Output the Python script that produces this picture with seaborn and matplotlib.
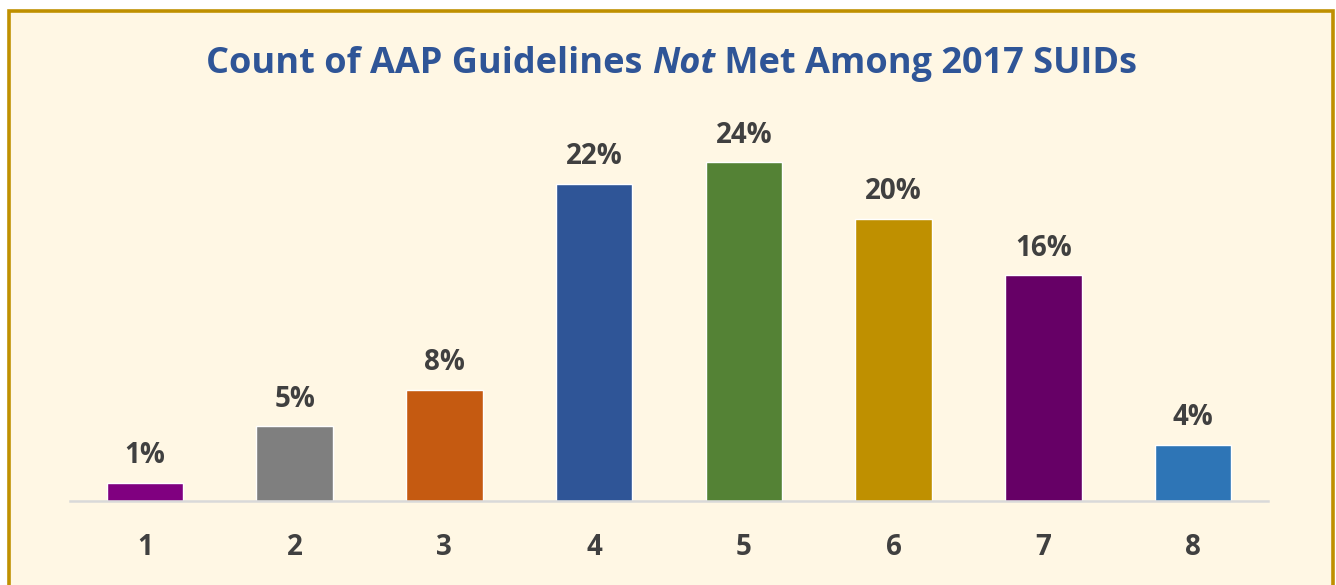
import numpy as np
import pandas as pd
import matplotlib
matplotlib.use("Agg")
import matplotlib.pyplot as plt
import seaborn as sns
from matplotlib.patches import Rectangle

# データ
guidelines = ["1", "2", "3", "4", "5", "6", "7", "8"]
pct_not_met = [1.3, 5.3, 7.9, 22.49, 24.0, 20.0, 16.0, 4.0]
bar_colors = ["#800080", "#7F7F7F", "#C55A11", "#2F5597",
              "#548235", "#BF9000", "#660066", "#2E75B6"]

df = pd.DataFrame({"count": guidelines, "pct": pct_not_met})

sns.set_theme(style="white")
plt.rcParams["font.family"] = ["Open Sans", "DejaVu Sans"]

W, H = 1336, 585
fig = plt.figure(figsize=(W / 100, H / 100), dpi=100)
fig.patch.set_facecolor("white")

# 背景と枠
bg = Rectangle((8.5 / W, -0.1), (1333 - 8.5) / W, 1.1 - 11.5 / H,
               transform=fig.transFigure, facecolor="#FFF7E4",
               edgecolor="#BF9000", linewidth=2.6, zorder=-10)
fig.add_artist(bg)

ax = fig.add_axes([70 / W, 1 - 501 / H, (1268 - 70) / W, (501 - 120) / H])
ax.set_facecolor("none")

sns.barplot(data=df, x="count", y="pct", hue="count", palette=bar_colors,
            legend=False, width=0.51, saturation=1, ax=ax)

ax.set_ylim(0, 27)
ax.set_xlim(-0.5, 7.5)
ax.set_yticks([])
ax.set_xlabel("")
ax.set_ylabel("")
for s in ["top", "right", "left"]:
    ax.spines[s].set_visible(False)
ax.spines["bottom"].set_color("#D9D9D9")
ax.spines["bottom"].set_linewidth(1.8)
ax.tick_params(axis="x", length=0, pad=23, labelsize=20, labelcolor="#404040")
for t in ax.get_xticklabels():
    t.set_fontweight("bold")

# データラベル
for i, v in enumerate(pct_not_met):
    ax.annotate("{:.0f}%".format(v), xy=(i, v), xytext=(0, 14),
                textcoords="offset points", ha="center", va="baseline",
                fontsize=20, fontweight="bold", color="#404040")

# タイトル (Not は斜体)
parts = [("Count of AAP Guidelines ", "normal"), ("Not", "italic"),
         (" Met Among 2017 SUIDs", "normal")]
renderer = fig.canvas.get_renderer()
texts = []
for s, st in parts:
    t = fig.text(0, 1 - 73 / H, s, fontsize=26, fontweight="bold", style=st,
                 color="#2F5597", ha="left", va="baseline")
    texts.append(t)
widths = [t.get_window_extent(renderer).width for t in texts]
x = (672 - sum(widths) / 2)
for t, w in zip(texts, widths):
    t.set_x(x / W)
    x += w

fig.savefig("out.png", dpi=100)
